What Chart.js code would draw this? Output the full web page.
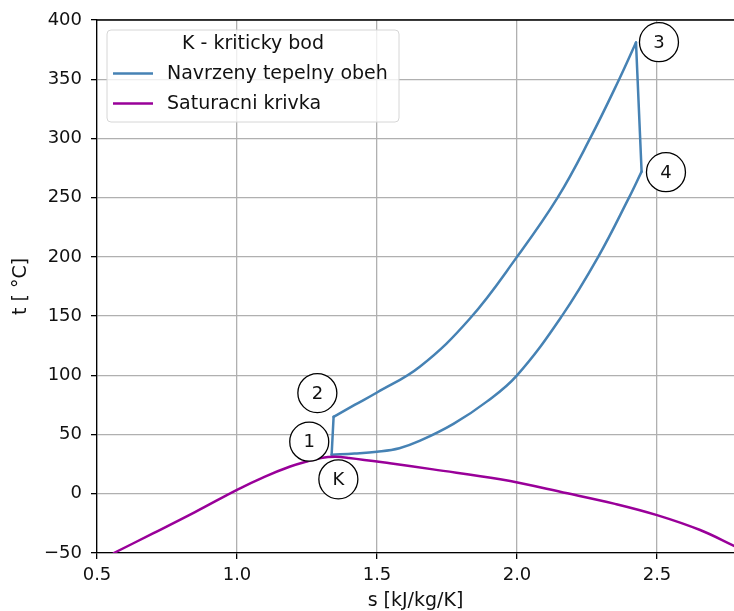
<!DOCTYPE html>
<html><head><meta charset="utf-8">
<script src="https://cdn.jsdelivr.net/npm/chart.js@4"></script>
<style>html,body{margin:0;padding:0;background:#fff;overflow:hidden}</style>
</head><body>
<canvas id="c" width="734" height="611"></canvas>
<script>
// ---- data ----
const cycleLabel = 'Navrzeny tepelny obeh';
const satLabel = 'Saturacni krivka';
const legendTitle = 'K - kriticky bod';
const xTitle = 's [kJ/kg/K]';
const yTitle = 't [ °C]';

// saturation curve
const satS = [0.56, 0.70, 0.85, 1.00, 1.10, 1.19, 1.25, 1.30, 1.35, 1.40, 1.546, 1.70, 1.94, 2.18, 2.35, 2.50, 2.654, 2.775];
const satT = [-50, -33.5, -15.5, 3.3, 14.5, 23.0, 27.3, 30.2, 31.2, 30.3, 25.8, 20.6, 12.2, 0.4, -8.5, -18, -30.6, -44];

// cycle: 1 -> 2 (compression)
const compS = [1.338, 1.345];
const compT = [33, 65];
// 2 -> 3 (heating)
const heatS = [1.345, 1.42, 1.50, 1.654, 1.832, 2.00, 2.145, 2.261, 2.365, 2.425];
const heatT = [65, 75, 85.5, 107.5, 148, 200, 250, 300, 350, 381];
// 3 -> 4 (expansion)
const expS = [2.425, 2.445];
const expT = [381, 272];
// 4 -> 1 (cooling), listed by ascending s
const coolS = [1.338, 1.42, 1.50, 1.58, 1.654, 1.773, 1.892, 2.00, 2.16, 2.29, 2.40, 2.445];
const coolT = [33, 34.0, 35.5, 38.5, 44.8, 59, 77.8, 100, 150, 200, 250, 272];

// state point labels
const pointNames = ['1', '2', '3', '4', 'K'];
const pointNameS = [1.258, 1.287, 2.507, 2.532, 1.362];
const pointNameT = [44, 85, 381.3, 271.5, 12.2];

const xTicks = [0.5, 1.0, 1.5, 2.0, 2.5];
const yTicks = [-50, 0, 50, 100, 150, 200, 250, 300, 350, 400];
const xMin = 0.5, xMax = 2.775, yMin = -50, yMax = 400;

// ---- build ----
const toXY = (s, t) => s.map((v, i) => ({x: v, y: t[i]}));
const BLUE = '#4682b4', PURPLE = '#990099';
const FONT = '"DejaVu Sans", sans-serif';
const INK = '#111';

function lineDs(label, s, t, color, smooth) {
  return {
    label, data: toXY(s, t), borderColor: color, backgroundColor: color,
    borderWidth: 2.5, pointRadius: 0, showLine: true, fill: false,
    tension: smooth ? 0.4 : 0, borderJoinStyle: 'round', borderCapStyle: 'round'
  };
}

const datasets = [
  lineDs(satLabel, satS, satT, PURPLE, true),
  lineDs(cycleLabel, compS, compT, BLUE, false),
  lineDs(cycleLabel, heatS, heatT, BLUE, true),
  lineDs(cycleLabel, expS, expT, BLUE, false),
  lineDs(cycleLabel, coolS, coolT, BLUE, true),
];

const legendItems = [
  {label: cycleLabel, color: BLUE},
  {label: satLabel, color: PURPLE},
];

const deco = {
  id: 'deco',
  afterDatasetsDraw(chart) {
    const {ctx, chartArea: a, scales: {x, y}} = chart;
    ctx.save();
    // top spine
    ctx.strokeStyle = '#000'; ctx.lineWidth = 1.3;
    ctx.beginPath(); ctx.moveTo(a.left, a.top); ctx.lineTo(a.right, a.top); ctx.stroke();
    // circled point labels
    ctx.font = '18px ' + FONT; ctx.textAlign = 'center'; ctx.textBaseline = 'middle';
    pointNames.forEach((n, i) => {
      const px = x.getPixelForValue(pointNameS[i]), py = y.getPixelForValue(pointNameT[i]);
      ctx.beginPath(); ctx.arc(px, py, 19.5, 0, 2 * Math.PI);
      ctx.fillStyle = '#fff'; ctx.fill();
      ctx.strokeStyle = '#000'; ctx.lineWidth = 1.3; ctx.stroke();
      ctx.fillStyle = INK; ctx.fillText(n, px, py + 1);
    });
    // legend
    const L = 107, T = 30, R = 399, B = 122;
    ctx.beginPath(); ctx.roundRect(L, T, R - L, B - T, 4);
    ctx.fillStyle = 'rgba(255,255,255,0.8)'; ctx.fill();
    ctx.strokeStyle = '#d6d6d6'; ctx.lineWidth = 1; ctx.stroke();
    ctx.font = '19px ' + FONT; ctx.fillStyle = INK;
    ctx.textAlign = 'center'; ctx.fillText(legendTitle, (L + R) / 2, 44);
    ctx.textAlign = 'left';
    legendItems.forEach((it, i) => {
      const ly = 73.5 + i * 30;
      ctx.strokeStyle = it.color; ctx.lineWidth = 2.5;
      ctx.beginPath(); ctx.moveTo(113, ly); ctx.lineTo(153, ly); ctx.stroke();
      ctx.fillStyle = INK; ctx.fillText(it.label, 167, ly + 1);
    });
    ctx.restore();
  }
};

function setTicks(values) {
  return scale => { scale.ticks = values.map(v => ({value: v})); };
}

new Chart(document.getElementById('c'), {
  type: 'scatter',
  data: {datasets},
  options: {
    responsive: false, animation: false, devicePixelRatio: 1,
    layout: {padding: {top: 20, right: 0, bottom: 0, left: 0}},
    plugins: {legend: {display: false}, tooltip: {enabled: false}},
    scales: {
      x: {
        type: 'linear', min: xMin, max: xMax,
        afterBuildTicks: setTicks(xTicks),
        afterFit: s => { s.height = 58; },
        grid: {color: '#b0b0b0', lineWidth: 1.3, tickLength: 6, tickColor: '#000', tickWidth: 1.3},
        border: {display: true, color: '#000', width: 1.3},
        ticks: {color: INK, font: {family: FONT, size: 18}, padding: 6, maxRotation: 0,
                callback: v => v.toFixed(1)},
        title: {display: true, text: xTitle, color: INK, font: {family: FONT, size: 19, lineHeight: 1.0},
                padding: {top: 0, bottom: 0}}
      },
      y: {
        type: 'linear', min: yMin, max: yMax,
        afterBuildTicks: setTicks(yTicks),
        afterFit: s => { s.width = 97; },
        grid: {color: '#b0b0b0', lineWidth: 1.3, tickLength: 6, tickColor: '#000', tickWidth: 1.3},
        border: {display: true, color: '#000', width: 1.3},
        ticks: {color: INK, font: {family: FONT, size: 18}, padding: 9,
                callback: v => String(v).replace('-', '\u2212')},
        title: {display: true, text: yTitle, color: INK, font: {family: FONT, size: 19, lineHeight: 1.2},
                padding: {top: 10, bottom: 0}}
      }
    }
  },
  plugins: [deco]
});
</script>
</body></html>
